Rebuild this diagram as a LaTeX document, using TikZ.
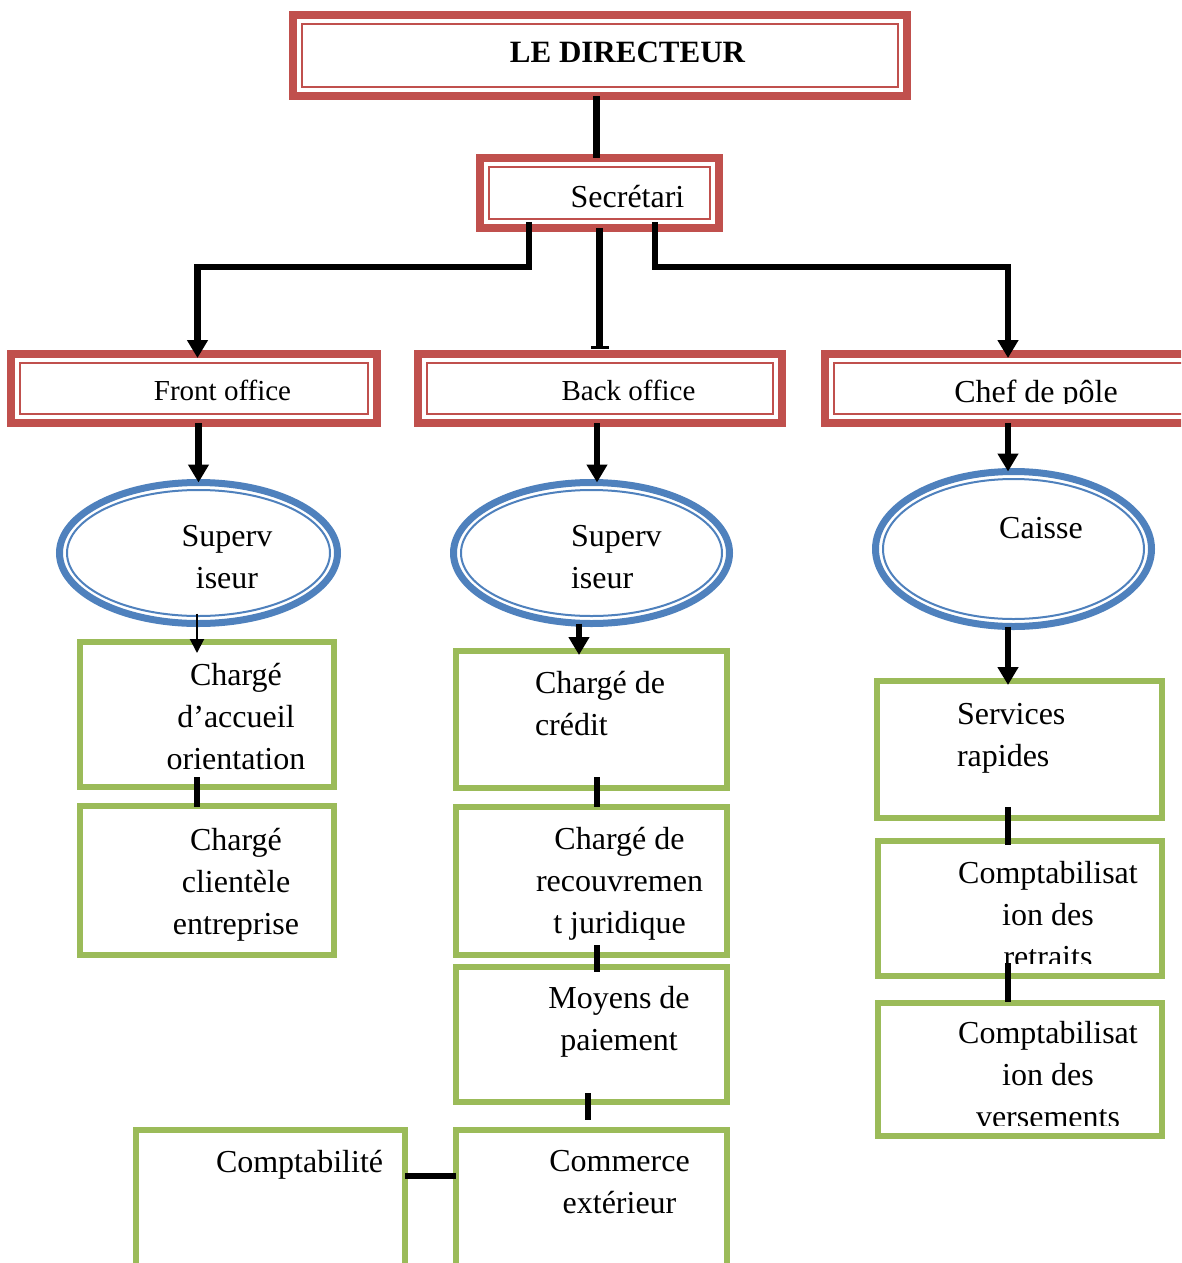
\documentclass[tikz,border=0pt]{standalone}
\usepackage{fontspec}
\setmainfont{Liberation Serif}
\usetikzlibrary{arrows.meta,shapes.geometric,calc}
\definecolor{bred}{HTML}{C0504D}
\definecolor{bblue}{HTML}{4F81BD}
\definecolor{bgreen}{HTML}{9BBB59}
\begin{document}
\begin{tikzpicture}[x=1pt,y=-1pt,
  redbox/.style={draw=bred,line width=8pt,rectangle,inner sep=0pt,outer sep=0pt},
  redin/.style={draw=bred,line width=2.2pt},
  bluebox/.style={draw=bblue,line width=7pt,ellipse,inner sep=0pt,outer sep=0pt},
  bluein/.style={draw=bblue,line width=2pt},
  greenbox/.style={draw=bgreen,line width=6pt,rectangle,inner sep=0pt,outer sep=0pt},
  lbl/.style={inner sep=0pt,outer sep=0pt,anchor=base,font=\fontsize{32}{42}\selectfont,align=center},
  lbll/.style={lbl,anchor=base west,align=left},
  conn/.style={line width=6.5pt},
  arr/.style={conn,-{Triangle[width=20pt,length=18pt]}},
]
\fill[white] (0,0) rectangle (1181,1263);
\path[use as bounding box] (0,0) rectangle (1181,1263);
\clip (0,0) rectangle (1181,1263);

% red boxes
\node[redbox,minimum width=614pt,minimum height=81pt] (dir) at (600,55.5) {};
\node[redbox,minimum width=239pt,minimum height=70pt] (sec) at (599.5,193) {};
\node[redbox,minimum width=366pt,minimum height=69pt] (fo) at (194,388.5) {};
\node[redbox,minimum width=364pt,minimum height=69pt] (bo) at (600,388.5) {};
\node[redbox,minimum width=372pt,minimum height=69pt] (chef) at (1011,388.5) {};
\foreach \n in {dir,sec,fo,bo,chef}
  \draw[redin] ($(\n.north west)+(9,9)$) rectangle ($(\n.south east)+(-9,-9)$);

% blue ellipses
\node[bluebox,minimum width=278pt,minimum height=141pt] (e1) at (198.5,553) {};
\node[bluebox,minimum width=276pt,minimum height=141pt] (e2) at (591.5,553) {};
\node[bluebox,minimum width=276pt,minimum height=155pt] (e3) at (1013.5,549) {};
\draw[bluein] (e1.center) ellipse [x radius=131.5, y radius=63];
\draw[bluein] (e2.center) ellipse [x radius=130.5, y radius=63];
\draw[bluein] (e3.center) ellipse [x radius=130.5, y radius=70];

% green boxes
\node[greenbox,minimum width=254pt,minimum height=145pt] (L1) at (207,714.5) {};
\node[greenbox,minimum width=254pt,minimum height=149pt] (L2) at (207,880.5) {};
\node[greenbox,minimum width=271pt,minimum height=137pt] (M1) at (591.5,719.5) {};
\node[greenbox,minimum width=271pt,minimum height=148pt] (M2) at (591.5,881) {};
\node[greenbox,minimum width=271pt,minimum height=135pt] (M3) at (591.5,1034.5) {};
\node[greenbox,minimum width=271pt,minimum height=157pt] (M4) at (591.5,1208.5) {};
\node[greenbox,minimum width=269pt,minimum height=157pt] (compta) at (270.5,1208.5) {};
\node[greenbox,minimum width=285pt,minimum height=137pt] (R1) at (1019.5,749.5) {};
\node[greenbox,minimum width=284pt,minimum height=135pt] (R2) at (1020,908.5) {};
\node[greenbox,minimum width=284pt,minimum height=133pt] (R3) at (1020,1069.5) {};

% texts (anchor = baseline of the last line)
\node[lbl,font=\bfseries\fontsize{31}{40}\selectfont] (tdir) at (627.5,63) {LE DIRECTEUR};
\node[lbl] (tsec) at (627.5,207) {Secrétari};
\node[lbl,font=\fontsize{29}{38}\selectfont] (tfo) at (222.5,400) {Front office};
\node[lbl,font=\fontsize{29}{38}\selectfont] (tbo) at (628.5,400) {Back office};
\begin{scope}
  \clip (800,300) rectangle (1181,403.5);
  \node[lbl] (tchef) at (1036,402) {Chef de pôle};
\end{scope}
\node[lbl] (te1) at (227,588) {Superv\\iseur};
\node[lbll] (te2) at (571,588) {Superv\\iseur};
\node[lbl] (te3) at (1041,538) {Caisse};
\node[lbl] (tl1) at (236,769) {Chargé\\d’accueil\\orientation};
\node[lbl] (tl2) at (236,934) {Chargé\\clientèle\\entreprise};
\node[lbll] (tm1) at (535,735) {Chargé de\\crédit};
\node[lbl] (tm2) at (619.5,933) {Chargé de\\recouvremen\\t juridique};
\node[lbl] (tm3) at (619,1050) {Moyens de\\paiement};
\node[lbl] (tm4) at (619.5,1213) {Commerce\\extérieur};
\node[lbll] (tcompta) at (216,1172) {Comptabilité};
\node[lbll] (tr1) at (957,766) {Services\\rapides};
\begin{scope}
  \clip (860,830) rectangle (1181,963);
  \node[lbl] (tr2) at (1048,967) {Comptabilisat\\ion des\\retraits};
\end{scope}
\begin{scope}
  \clip (860,990) rectangle (1181,1125);
  \node[lbl] (tr3) at (1048,1127) {Comptabilisat\\ion des\\versements};
\end{scope}

% connectors
\coordinate (d1) at ($(sec.north)+(-3,0)$);
\draw[conn] (d1 |- dir.south) -- (d1);
\coordinate (sL) at ($(sec.south)+(-70.5,-6)$);
\coordinate (sR) at ($(sec.south)+(55.5,-6)$);
\draw[arr] (sL) -- ++(0,45) -| ($(fo.north)+(3.5,4)$);
\draw[arr] (sR) -- ++(0,45) -| ($(chef.north)+(-3,4)$);
\draw[conn,-{Bar[width=18pt,line width=3pt]}] (sec.south) -- ($(sec.south |- bo.north)+(0,-5)$);
\draw[arr] (fo.south -| e1.north) -- (e1.north);
\coordinate (b1) at ($(bo.south)+(-3,0)$);
\draw[arr] (b1) -- (b1 |- e2.north);
\coordinate (c1) at ($(chef.south)+(-3,0)$);
\draw[arr] (c1) -- (c1 |- e3.north);
\coordinate (p1) at ($(e1.south)+(-1.5,-10)$);
\draw[line width=2pt,-{Triangle[width=14pt,length=14pt]}] (p1) -- ($(p1 |- L1.north)+(0,11)$);
\coordinate (p2) at ($(e2.south)+(-12.5,0)$);
\draw[arr] (p2) -- ($(p2 |- M1.north)+(0,4)$);
\coordinate (p3) at ($(e3.south)+(-5.5,0)$);
\draw[arr] (p3) -- ($(p3 |- R1.north)+(0,4)$);
\coordinate (q1) at ($(L1.south)+(-10,-10)$);
\draw[conn] (q1) -- ($(q1 |- L2.north)+(0,1)$);
\coordinate (q2) at ($(M1.south)+(5.5,-11)$);
\draw[conn] (q2) -- (q2 |- M2.north);
\coordinate (q3) at ($(M2.south)+(5.5,-10)$);
\draw[conn] (q3) -- ($(q3 |- M3.north)+(0,5)$);
\coordinate (q4) at ($(M3.south)+(-3.5,-9)$);
\draw[conn] (q4) -- ($(q4 |- M4.north)+(0,-10)$);
\coordinate (q5) at ($(R1.south)+(-11.5,-11)$);
\draw[conn] (q5) -- ($(q5 |- R2.north)+(0,4)$);
\coordinate (q6) at ($(R2.south)+(-12,-13)$);
\draw[conn] (q6) -- ($(q6 |- R3.north)+(0,-1)$);
\coordinate (q7) at ($(compta.north east)+(0,46)$);
\draw[conn] (q7) -- (q7 -| M4.west);
\end{tikzpicture}
\end{document}
